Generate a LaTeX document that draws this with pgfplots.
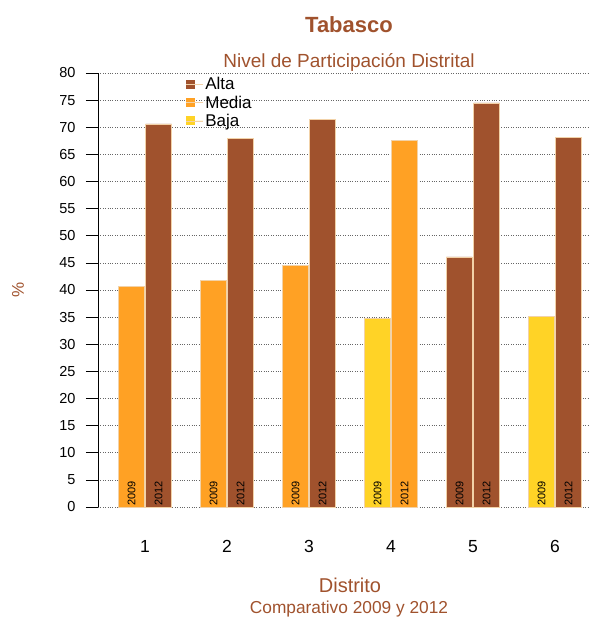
\documentclass[border=0pt]{standalone}
\usepackage{pgfplots}
\pgfplotsset{compat=1.18}
\usepackage{fontspec}
\setmainfont{Liberation Sans}
\definecolor{alta}{HTML}{A0522D}
\definecolor{media}{HTML}{FFA124}
\definecolor{baja}{HTML}{FFD326}
\definecolor{edge}{HTML}{F2D2A8}
\pgfplotsset{mybar/.style={ybar, bar shift=0pt, bar width=26pt, draw=edge, line width=0.6pt,
  legend image code/.code={\fill[##1,draw=none] (0pt,-4.5pt) rectangle (9pt,4.5pt); \path (0pt,0pt) -- (17pt,0pt);}}}
\begin{document}
\begin{tikzpicture}
\begin{axis}[
  at={(0,0)}, anchor=south west,
  scale only axis, width=492pt, height=434pt,
  xmin=0.4268, xmax=6.4268, ymin=0, ymax=80,
  axis lines*=left,
  x axis line style={draw=none},
  xtick={1,2,3,4,5,6}, xticklabels={1,2,3,4,5,6}, major x tick style={draw=none},
  xticklabel style={yshift=-18pt, font=\fontsize{17.5}{19}\selectfont},
  ytick={0,5,...,80},
  tick align=outside, major tick length=12pt,
  ytick style={black, line width=0.6pt},
  y axis line style={black, line width=0.6pt},
  yticklabel style={xshift=-7pt, font=\fontsize{14.5}{16}\selectfont},
  /pgf/number format/assume math mode=true,
  ymajorgrids, grid style={black!60, dotted, line width=0.7pt},
  legend style={at={(0.178,0.995)}, anchor=north west, draw=none, fill=none,
    font=\fontsize{17}{19}\selectfont, row sep=0.5pt, inner sep=0pt},
  legend cell align=left,
  clip=false,
]
\addplot[mybar, fill=alta] coordinates {(1.165,70.6) (2.165,68.0) (3.165,71.5) (4.835,46.1) (5.165,74.5) (6.165,68.2)};
\addlegendentry{Alta}
\addplot[mybar, fill=media] coordinates {(0.835,40.7) (1.835,41.8) (2.835,44.6) (4.165,67.6)};
\addlegendentry{Media}
\addplot[mybar, fill=baja] coordinates {(3.835,34.7) (5.835,35.2)};
\addlegendentry{Baja}
\addplot[forget plot, only marks, mark=none, nodes near coords, point meta=explicit symbolic,
  nodes near coords style={rotate=90, anchor=west, inner sep=1pt, font=\fontsize{11}{12}\selectfont, black}]
  coordinates {
  (0.835,0) [2009] (1.165,0) [2012]
  (1.835,0) [2009] (2.165,0) [2012]
  (2.835,0) [2009] (3.165,0) [2012]
  (3.835,0) [2009] (4.165,0) [2012]
  (4.835,0) [2009] (5.165,0) [2012]
  (5.835,0) [2009] (6.165,0) [2012]
  };
\end{axis}
\path[use as bounding box] (-98pt,-112pt) rectangle (492pt,507pt);
\node[text=alta, font=\bfseries\fontsize{22}{26}\selectfont] at (251pt,482pt) {Tabasco};
\node[text=alta, font=\fontsize{19}{22}\selectfont] at (251pt,445pt) {Nivel de Participación Distrital};
\node[text=alta, font=\fontsize{20}{22}\selectfont] at (252pt,-78pt) {Distrito};
\node[text=alta, font=\fontsize{17.3}{20}\selectfont] at (251pt,-102pt) {Comparativo 2009 y 2012};
\node[text=alta, font=\fontsize{17}{18}\selectfont, rotate=90] at (-80pt,217pt) {\%};
\end{tikzpicture}
\end{document}
